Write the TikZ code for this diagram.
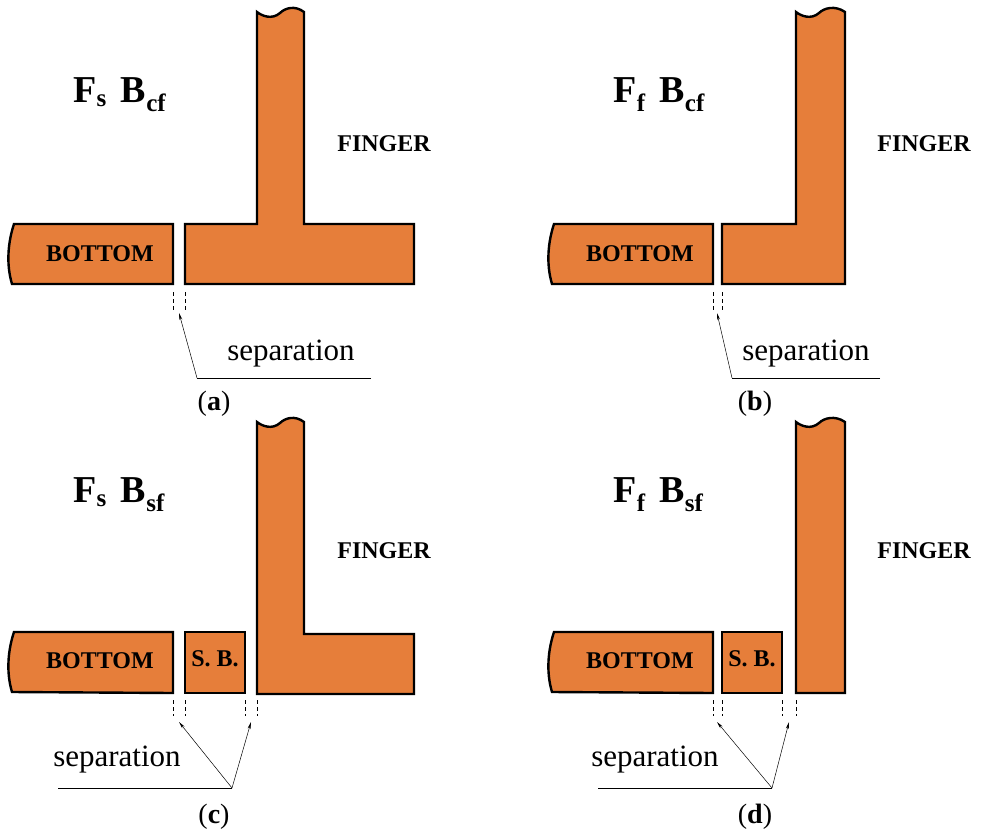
\documentclass[tikz,border=0pt]{standalone}
\usepackage{fontspec}
\setmainfont{Liberation Serif}
\usetikzlibrary{arrows.meta}
\definecolor{metal}{HTML}{E67E3A}
\tikzset{
  % orange part with black outline
  part/.style = {
    draw = black,
    fill = metal,
    line width = 2.4pt,
    line join = miter
  },
  % dashed marks under the gaps
  gap/.style = {
    draw = black,
    line width = 0.9pt,
    dash pattern = on 4pt off 3pt
  },
  % leader lines for the labels
  lead/.style = {
    draw = black,
    line width = 0.5pt
  },
  arr/.style = {
    lead,
    -{Stealth[length=7pt,width=3pt]}
  },
  title/.style = {font = \fontsize{38}{40}\selectfont\bfseries, anchor = west},
  tag/.style = {font = \fontsize{24}{26}\selectfont\bfseries},
  note/.style = {font = \fontsize{31}{34}\selectfont},
  caption/.style = {font = \fontsize{28}{30}\selectfont}
}
% wavy left end of the bottom strip, from top to bottom
\newcommand{\leftwave}[1]{(14,#1) .. controls (8,#1+18) and (6,#1+40) .. (12,#1+60)}
\newcommand{\sub}[1]{\textsubscript{\fontsize{25}{26}\selectfont #1}}

\begin{document}
\begin{tikzpicture}[x=1pt, y=-1pt]
  \useasboundingbox (0,0) rectangle (981,837);

  % (a)
  \path[part] \leftwave{224} -- (173,284) -- (173,224) -- cycle;
  \path[part] (185,224) -- (257,224) -- (257,12) .. controls (262,16) and (272,20) .. (280,13)
    .. controls (285,8) and (295,5) .. (304,12) -- (304,224) -- (414,224) -- (414,284) -- (185,284) -- cycle;
  \node[title] (titlea) at (70,95) {F\sub{s}\hspace{14pt}B\sub{cf}};
  \node[tag] (fingera) at (384,144) {FINGER};
  \node[tag] (bottoma) at (100,254) {BOTTOM};
  \draw[gap] (173,292) -- (173,312) (185,292) -- (185,312);
  \coordinate (gapa) at (179,313);
  \coordinate (kneea) at (197,378);
  \coordinate (enda) at (371,378);
  \draw[lead] (enda) -- (kneea);
  \draw[arr] (kneea) -- (gapa);
  \node[note] (sepa) at (291,354) {separation};
  \node[caption] (capa) at (214,404) {(\textbf{a})};

  % (b)
  \begin{scope}[shift={(540,0)}]
    \path[part] \leftwave{224} -- (173,284) -- (173,224) -- cycle;
    \path[part] (182,224) -- (256,224) -- (256,12) .. controls (261,16) and (271,20) .. (279,13)
      .. controls (284,8) and (295,5) .. (305,12) -- (305,284) -- (182,284) -- cycle;
    \node[title] (titleb) at (70,95) {F\sub{f}\hspace{14pt}B\sub{cf}};
    \node[tag] (fingerb) at (384,144) {FINGER};
    \node[tag] (bottomb) at (100,254) {BOTTOM};
    \draw[gap] (173,292) -- (173,312) (182,292) -- (182,312);
    \coordinate (gapb) at (177,313);
    \coordinate (kneeb) at (192,378);
    \coordinate (endb) at (340,378);
    \draw[lead] (endb) -- (kneeb);
    \draw[arr] (kneeb) -- (gapb);
    \node[note] (sepb) at (266,354) {separation};
    \node[caption] (capb) at (215,404) {(\textbf{b})};
  \end{scope}

  % (c)
  \path[part] \leftwave{632} -- (173,693) -- (173,632) -- cycle;
  \path[part] (185,632) rectangle (245,693);
  \path[part] (257,693) -- (257,422) .. controls (262,426) and (272,430) .. (280,423)
    .. controls (285,418) and (295,415) .. (304,422) -- (304,634) -- (414,634) -- (414,694) -- (257,694) -- cycle;
  \node[title] (titlec) at (70,495) {F\sub{s}\hspace{14pt}B\sub{sf}};
  \node[tag] (fingerc) at (384,551) {FINGER};
  \node[tag] (bottomc) at (100,661) {BOTTOM};
  \node[tag] (sbc) at (215,659) {S. B.};
  \draw[gap] (173,700) -- (173,716) (185,700) -- (185,716) (245,700) -- (245,716) (257,700) -- (257,716);
  \coordinate (gapc1) at (179,722);
  \coordinate (gapc2) at (251,722);
  \coordinate (kneec) at (232,788);
  \coordinate (endc) at (58,788);
  \draw[lead] (endc) -- (kneec);
  \draw[arr] (kneec) -- (gapc1);
  \draw[arr] (kneec) -- (gapc2);
  \node[note] (sepc) at (117,760) {separation};
  \node[caption] (capc) at (214,817) {(\textbf{c})};

  % (d)
  \begin{scope}[shift={(540,0)}]
    \path[part] \leftwave{632} -- (173,693) -- (173,632) -- cycle;
    \path[part] (182,632) rectangle (242,693);
    \path[part] (256,693) -- (256,422) .. controls (261,426) and (271,430) .. (279,423)
      .. controls (284,418) and (295,415) .. (305,422) -- (305,693) -- cycle;
    \node[title] (titled) at (70,495) {F\sub{f}\hspace{14pt}B\sub{sf}};
    \node[tag] (fingerd) at (384,551) {FINGER};
    \node[tag] (bottomd) at (100,661) {BOTTOM};
    \node[tag] (sbd) at (212,659) {S. B.};
    \draw[gap] (173,700) -- (173,716) (182,700) -- (182,716) (242,700) -- (242,716) (256,700) -- (256,716);
    \coordinate (gapd1) at (177,722);
    \coordinate (gapd2) at (249,722);
    \coordinate (kneed) at (232,788);
    \coordinate (endd) at (58,788);
    \draw[lead] (endd) -- (kneed);
    \draw[arr] (kneed) -- (gapd1);
    \draw[arr] (kneed) -- (gapd2);
    \node[note] (sepd) at (115,760) {separation};
    \node[caption] (capd) at (215,817) {(\textbf{d})};
  \end{scope}
\end{tikzpicture}
\end{document}
